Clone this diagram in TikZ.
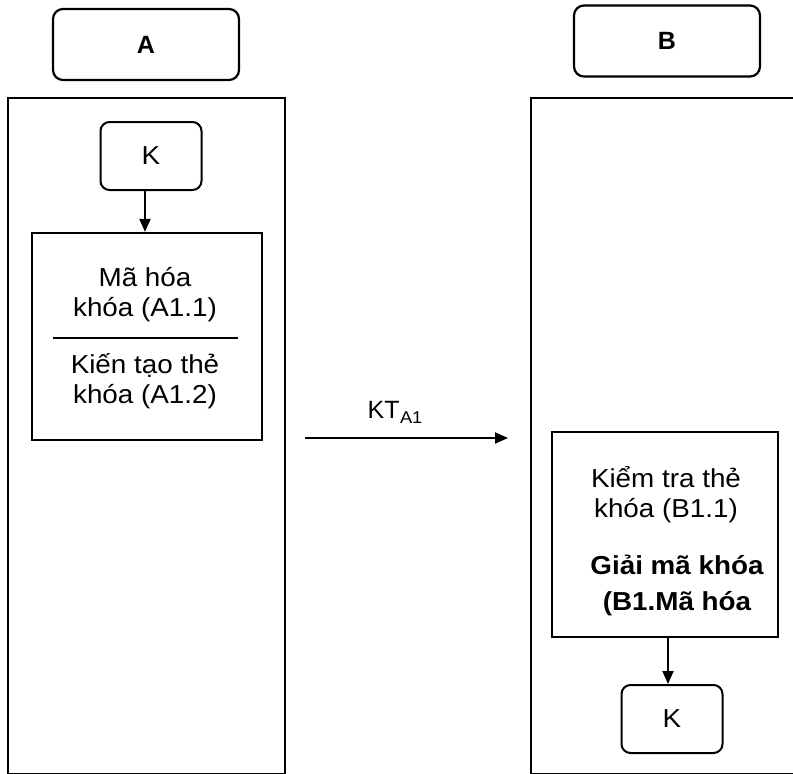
\documentclass[tikz,border=0pt]{standalone}
\usepackage{fontspec}
\setmainfont{Liberation Sans}
\newfontfamily\widesans[FakeStretch=1.07]{Liberation Sans}
\usetikzlibrary{arrows.meta}
\begin{document}
\begin{tikzpicture}[x=1pt,y=-1pt,
  lane/.style={draw,line width=2.4pt,inner sep=0pt},
  hdr/.style={draw,line width=2.2pt,rounded corners=10pt,inner sep=0pt,
    minimum width=186pt,minimum height=71pt,font=\fontsize{25}{25}\selectfont\bfseries},
  keybox/.style={draw,line width=2pt,rounded corners=9pt,inner sep=0pt,
    minimum width=101pt,minimum height=68pt,font=\widesans\fontsize{26}{26}\selectfont},
  procbox/.style={draw,line width=2.2pt,inner sep=0pt},
  body/.style={align=center,inner sep=0pt,font=\widesans\fontsize{26}{30}\selectfont},
  flow/.style={line width=2pt,-{Triangle[length=13pt,width=11pt]}}]
\useasboundingbox (0,0) rectangle (793,774);
\clip (0,0) rectangle (793,774);

% participant headers
\node[hdr] (hdrA) at (146,44.5) {A};
\node[hdr] (hdrB) at (667,41) {B};

% swim lanes
\node[lane,minimum width=277pt,minimum height=676pt] (laneA) at (146.5,436) {};
\node[lane,minimum width=279pt,minimum height=676pt] (laneB) at (670.5,436) {};

% side A: key, encryption and token construction
\node[keybox] (kA) at (151,156) {K};
\node[procbox,minimum width=230pt,minimum height=207pt] (encA) at (147,336.5) {};
\node[body] (encA1) at (145,295) {Mã hóa\\khóa (A1.1)};
\node[body] (encA2) at (145,381.5) {Kiến tạo thẻ\\khóa (A1.2)};
\draw[line width=1.2pt] (53,338) -- (238,338);
\draw[flow] (kA.south -| 145,0) -- (encA.north -| 145,0);

% transfer of the key token
\coordinate (sendA) at (305,438);
\coordinate (recvB) at (508,438);
\draw[flow] (sendA) -- (recvB);
\node[inner sep=0pt,font=\fontsize{25}{25}\selectfont] (kt) at (395,412)
  {KT\kern0.5pt\raisebox{-5pt}{\widesans\fontsize{17}{17}\selectfont A1}};

% side B: token check and decryption
\node[procbox,minimum width=226pt,minimum height=205pt] (encB) at (665,534.5) {};
\node[body] (decB1) at (666,495) {Kiểm tra thẻ\\khóa (B1.1)};
\node[body,font=\widesans\fontsize{26}{36}\selectfont\bfseries] (decB2) at (677,585) {Giải mã khóa\\(B1.Mã hóa};
\node[keybox] (kB) at (672,719) {K};
\draw[flow] (encB.south -| 668,0) -- (kB.north -| 668,0);
\end{tikzpicture}
\end{document}
